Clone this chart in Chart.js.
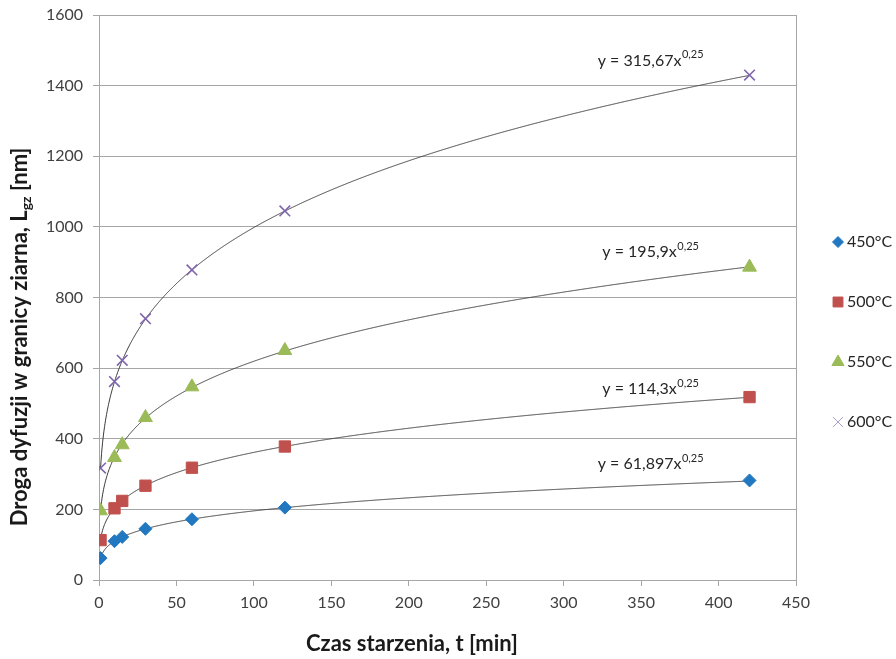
<!DOCTYPE html>
<html lang="pl">
<head>
    <meta charset="UTF-8">
    <title>Droga dyfuzji w granicy ziarna</title>
    <style>
        body {
            margin: 0;
            padding: 0;
            background: white;
        }
        .chart {
            position: relative;
            width: 896px;
            height: 659px;
        }
    </style>
</head>
<body>
    <div class="chart">
        <canvas id="chartCanvas" width="896" height="659"></canvas>
    </div>

    <script src="https://cdn.jsdelivr.net/npm/chart.js@4"></script>
    <script>
        // czas starzenia [min]
        const times = [1, 10, 15, 30, 60, 120, 420];

        // droga dyfuzji [nm]
        const series450 = [62, 110, 122, 145, 172, 205, 282];
        const series500 = [113, 203, 224, 267, 318, 378, 518];
        const series550 = [196, 347, 383, 460, 547, 650, 886];
        const series600 = [317, 562, 622, 740, 878, 1045, 1430];

        const seriesNames = ['450°C', '500°C', '550°C', '600°C'];

        // linie trendu y = a * x^b
        const trendCoef = [61.897, 114.3, 195.9, 315.67];
        const trendExp = 0.25;
        const trendLabels = ['61,897', '114,3', '195,9', '315,67'];
        const trendExpLabel = '0,25';

        const xTicks = [0, 50, 100, 150, 200, 250, 300, 350, 400, 450];
        const yTicks = [0, 200, 400, 600, 800, 1000, 1200, 1400, 1600];

        const colors = ['#2178c0', '#c0504d', '#9bbb59', '#7f66ac'];
        const styles = ['rectRot', 'rect', 'triangle', 'crossRot'];
        const radii = [6.5, 8, 8, 7.5];

        // miejsca opisów równań (w jednostkach osi)
        const eqAnchors = [[356, 328], [356, 540], [356, 928], [356, 1471]];

        const FONT = 'Lato, "Open Sans", sans-serif';
        const GRID = '#a6a6a6';

        const allSeries = [series450, series500, series550, series600];

        const datasets = allSeries.map((vals, i) => ({
            label: seriesNames[i],
            data: times.map((t, j) => ({x: t, y: vals[j]})),
            showLine: false,
            pointStyle: styles[i],
            pointRadius: radii[i],
            pointHoverRadius: radii[i],
            backgroundColor: colors[i],
            borderColor: colors[i],
            borderWidth: i === 3 ? 1.6 : 1
        }));

        const extras = {
            id: 'extras',
            beforeDatasetsDraw(chart) {
                const {ctx, chartArea, scales} = chart;
                const xs = scales.x, ys = scales.y;
                ctx.save();
                ctx.beginPath();
                ctx.rect(chartArea.left, chartArea.top, chartArea.right - chartArea.left, chartArea.bottom - chartArea.top);
                ctx.clip();
                ctx.strokeStyle = '#3a3a3a';
                ctx.lineWidth = 1;
                trendCoef.forEach(a => {
                    const p0 = xs.getPixelForValue(times[0]);
                    const p1 = xs.getPixelForValue(times[times.length - 1]);
                    ctx.beginPath();
                    for (let px = p0; px <= p1; px += 0.5) {
                        const t = xs.getValueForPixel(px);
                        const py = ys.getPixelForValue(a * Math.pow(t, trendExp));
                        if (px === p0) ctx.moveTo(px, py); else ctx.lineTo(px, py);
                    }
                    ctx.stroke();
                });
                ctx.restore();
            },
            afterDraw(chart) {
                const {ctx, scales} = chart;
                const xs = scales.x, ys = scales.y;
                ctx.save();

                // równania trendu
                ctx.fillStyle = '#262626';
                ctx.textBaseline = 'middle';
                trendLabels.forEach((lab, i) => {
                    const main = 'y = ' + lab + 'x';
                    ctx.font = '16px ' + FONT;
                    const w1 = ctx.measureText(main).width;
                    ctx.font = '11px ' + FONT;
                    const w2 = ctx.measureText(trendExpLabel).width;
                    const cx = xs.getPixelForValue(eqAnchors[i][0]);
                    const cy = ys.getPixelForValue(eqAnchors[i][1]);
                    const left = cx - (w1 + w2) / 2;
                    ctx.textAlign = 'left';
                    ctx.font = '16px ' + FONT;
                    ctx.fillText(main, left, cy);
                    ctx.font = '11px ' + FONT;
                    ctx.fillText(trendExpLabel, left + w1 + 0.5, cy - 6);
                });

                // legenda
                ctx.textAlign = 'left';
                ctx.font = '16px ' + FONT;
                seriesNames.forEach((name, i) => {
                    const y = 241 + i * 60;
                    const c = i === 3 ? '#a99fd0' : colors[i];
                    ctx.fillStyle = c;
                    ctx.strokeStyle = c;
                    Chart.helpers.drawPoint(ctx, {
                        pointStyle: styles[i],
                        rotation: 0,
                        borderWidth: 1.2,
                        radius: i === 0 ? 5.5 : 7
                    }, 838, y + 1);
                    ctx.fillStyle = '#262626';
                    ctx.fillText(name, 847, y + 1);
                });

                // tytuł osi X
                ctx.font = 'bold 22px ' + FONT;
                ctx.textAlign = 'center';
                ctx.fillStyle = '#1a1a1a';
                ctx.fillText('Czas starzenia, t [min]', 412, 644);

                // tytuł osi Y z indeksem dolnym
                ctx.translate(20, 337);
                ctx.rotate(-Math.PI / 2);
                const p1 = 'Droga dyfuzji w granicy ziarna, L';
                const sub = 'gz';
                const p2 = ' [nm]';
                ctx.font = 'bold 22px ' + FONT;
                const wa = ctx.measureText(p1).width;
                const wc = ctx.measureText(p2).width;
                ctx.font = 'bold 14px ' + FONT;
                const wb = ctx.measureText(sub).width;
                let x0 = -(wa + wb + wc) / 2;
                ctx.textAlign = 'left';
                ctx.font = 'bold 22px ' + FONT;
                ctx.fillText(p1, x0, 0);
                ctx.font = 'bold 14px ' + FONT;
                ctx.fillText(sub, x0 + wa, 6);
                ctx.font = 'bold 22px ' + FONT;
                ctx.fillText(p2, x0 + wa + wb, 0);
                ctx.restore();
            }
        };

        new Chart(document.getElementById('chartCanvas'), {
            type: 'scatter',
            data: {datasets: datasets},
            options: {
                responsive: false,
                animation: false,
                devicePixelRatio: 1,
                layout: {padding: {left: 37, right: 100, top: 15, bottom: 0}},
                plugins: {
                    legend: {display: false},
                    tooltip: {enabled: false}
                },
                scales: {
                    x: {
                        type: 'linear',
                        min: 0,
                        max: 450,
                        afterBuildTicks: s => { s.ticks = xTicks.map(v => ({value: v})); },
                        afterFit: s => { s.height = 79; s.paddingLeft = 0; s.paddingRight = 0; },
                        grid: {
                            color: c => (c.tick && c.tick.value === 450) ? GRID : 'rgba(0,0,0,0)',
                            tickColor: GRID,
                            tickLength: 6
                        },
                        border: {color: GRID},
                        ticks: {
                            padding: 7,
                            color: '#404040',
                            font: {family: FONT, size: 16},
                            callback: v => String(v)
                        }
                    },
                    y: {
                        type: 'linear',
                        min: 0,
                        max: 1600,
                        afterBuildTicks: s => { s.ticks = yTicks.map(v => ({value: v})); },
                        afterFit: s => { s.width = 62; s.paddingTop = 0; s.paddingBottom = 0; },
                        grid: {
                            color: GRID,
                            tickColor: GRID,
                            tickLength: 6
                        },
                        border: {color: GRID},
                        ticks: {
                            padding: 10,
                            color: '#404040',
                            font: {family: FONT, size: 16},
                            callback: v => String(v)
                        }
                    }
                }
            },
            plugins: [extras]
        });
    </script>
</body>
</html>
